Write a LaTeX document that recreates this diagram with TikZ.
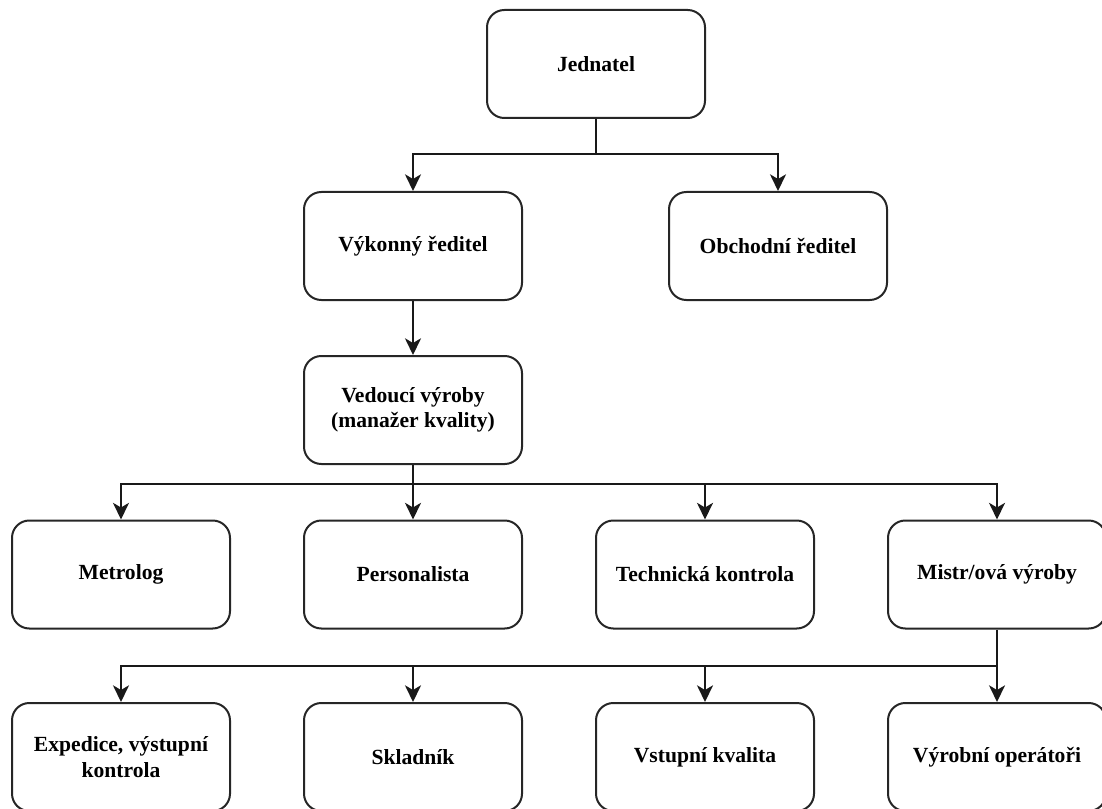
\documentclass[tikz,border=0pt]{standalone}
\usepackage{fontspec}
\setmainfont{Liberation Serif}
\usetikzlibrary{arrows.meta}
\begin{document}
\begin{tikzpicture}[x=0.75pt,y=-0.75pt,
  orgbox/.style={draw=black!85, line width=1.5pt, rounded corners=13pt, fill=white,
    minimum width=163.5pt, minimum height=81pt, align=center,
    font=\fontsize{16.2pt}{19pt}\selectfont\bfseries, inner sep=2pt},
  link/.style={draw=black!90, line width=1.5pt},
  arr/.style={link, -{Stealth[length=12.5pt,width=12pt,inset=3.5pt]}}]
\useasboundingbox (0,0) rectangle (1102,809);
\begin{scope}
\clip (0,0) rectangle (1102,809);
% top level
\node[orgbox] (jed) at (596,64) {Jednatel};
% directors
\node[orgbox] (vyk) at (413,246) {Výkonný ředitel};
\node[orgbox] (obch) at (778,246) {Obchodní ředitel};
% production head
\node[orgbox] (ved) at (413,410) {Vedoucí výroby\\(manažer kvality)};
% third row
\node[orgbox] (met) at (121,574.5) {Metrolog};
\node[orgbox] (pers) at (413,574.5) {Personalista};
\node[orgbox] (tech) at (705,574.5) {Technická kontrola};
\node[orgbox] (mistr) at (997,574.5) {Mistr/ová výroby};
% fourth row
\node[orgbox] (exp) at (121,757) {Expedice, výstupní\\kontrola};
\node[orgbox] (skl) at (413,757) {Skladník};
\node[orgbox] (vst) at (705,757) {Vstupní kvalita};
\node[orgbox] (vyr) at (997,757) {Výrobní operátoři};

% junction points of the bus lines
\coordinate (b1) at (596,154);
\coordinate (b2) at (413,484);
\coordinate (b3) at (997,666);

% Jednatel -> directors
\draw[link] (jed.south) -- (b1);
\draw[arr] (b1) -| (vyk.north);
\draw[arr] (b1) -| (obch.north);
% Výkonný ředitel -> Vedoucí výroby
\draw[arr] (vyk.south) -- (ved.north);
% Vedoucí výroby -> third row
\draw[link] (ved.south) -- (b2);
\draw[arr] (b2) -| (met.north);
\draw[arr] (b2) -- (pers.north);
\draw[arr] (b2) -| (tech.north);
\draw[arr] (b2) -| (mistr.north);
% Mistr/ová výroby -> fourth row
\draw[link] (mistr.south) -- (b3);
\draw[arr] (b3) -| (exp.north);
\draw[arr] (b3) -| (skl.north);
\draw[arr] (b3) -| (vst.north);
\draw[arr] (b3) -- (vyr.north);
\end{scope}
\end{tikzpicture}
\end{document}
